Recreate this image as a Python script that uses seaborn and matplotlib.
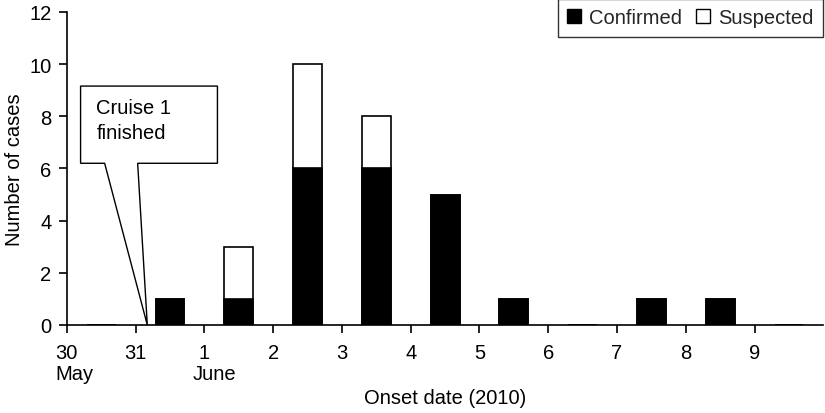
import matplotlib
matplotlib.use("Agg")
import matplotlib.pyplot as plt
from matplotlib.patches import Patch, Polygon
import seaborn as sns
import pandas as pd

# Data
days = ["30 May", "31 May", "1 Jun", "2 Jun", "3 Jun", "4 Jun", "5 Jun",
        "6 Jun", "7 Jun", "8 Jun", "9 Jun"]
confirmed = [0, 1, 1, 6, 6, 5, 1, 0, 1, 1, 0]
suspected = [0, 0, 2, 4, 2, 0, 0, 0, 0, 0, 0]
tick_labels = ["30", "31", "1", "2", "3", "4", "5", "6", "7", "8", "9"]
month_labels = {"May": 0, "June": 2}

total = [c + s for c, s in zip(confirmed, suspected)]
df = pd.DataFrame({"day": days, "confirmed": confirmed, "total": total})

sns.set_theme(style="white")
plt.rcParams["font.family"] = ["Liberation Sans", "DejaVu Sans"]
FS = 14.5

fig = plt.figure(figsize=(8.25, 4.14), dpi=100)
ax = fig.add_axes([0.081, 0.2126, 0.917, 0.756])

sns.barplot(data=df, x="day", y="total", order=days, color="white",
            edgecolor="black", linewidth=1.2, width=0.42, saturation=1, ax=ax)
sns.barplot(data=df, x="day", y="confirmed", order=days, color="black",
            edgecolor="black", linewidth=1.2, width=0.42, saturation=1, ax=ax)

n = len(days)
ax.set_xlim(-0.5, n - 0.5)
ax.set_ylim(0, 12)
ax.set_yticks(range(0, 13, 2))
ax.set_xticks([i - 0.5 for i in range(n)])
ax.set_xticklabels(tick_labels, fontsize=FS)
ax.tick_params(axis="y", labelsize=FS, pad=5)
ax.tick_params(axis="x", pad=7)
ax.tick_params(axis="both", direction="out", length=6, width=1.2, color="black",
               bottom=True, left=True, labelcolor="black")

for spine in ["top", "right"]:
    ax.spines[spine].set_visible(False)
for spine in ["left", "bottom"]:
    ax.spines[spine].set_color("black")
    ax.spines[spine].set_linewidth(1.2)

# month labels under tick labels
trans = ax.get_xaxis_transform()
for lab, idx in month_labels.items():
    ax.text(idx - 0.5 - 0.17, -0.125, lab, transform=trans, ha="left", va="top",
            fontsize=FS, color="black")

ax.set_ylabel("Number of cases", fontsize=FS, color="black", labelpad=4)
ax.set_xlabel("Onset date (2010)", fontsize=FS, color="black")
ax.xaxis.set_label_coords(0.5, -0.2)

# callout
callout = Polygon([(-0.3, 9.16), (1.69, 9.16), (1.69, 6.2), (0.53, 6.2),
                   (0.67, 0.0), (0.05, 6.2), (-0.3, 6.2)],
                  closed=True, facecolor="white", edgecolor="black", linewidth=1.0,
                  zorder=5)
ax.add_patch(callout)
ax.text(-0.07, 8.72, "Cruise 1\nfinished", ha="left", va="top", fontsize=FS,
        color="black", zorder=6, linespacing=1.45)

handles = [Patch(facecolor="black", edgecolor="black", label="Confirmed"),
           Patch(facecolor="white", edgecolor="black", label="Suspected")]
leg = fig.legend(handles=handles, loc="upper right", bbox_to_anchor=(0.997, 0.999),
                 ncol=2, fontsize=FS, frameon=True, fancybox=False,
                 handlelength=0.7, handleheight=0.7, handletextpad=0.4,
                 columnspacing=0.7, borderpad=0.45, borderaxespad=0)
leg.get_frame().set_edgecolor("black")
leg.get_frame().set_linewidth(1.0)

fig.savefig("out.png", dpi=100)
